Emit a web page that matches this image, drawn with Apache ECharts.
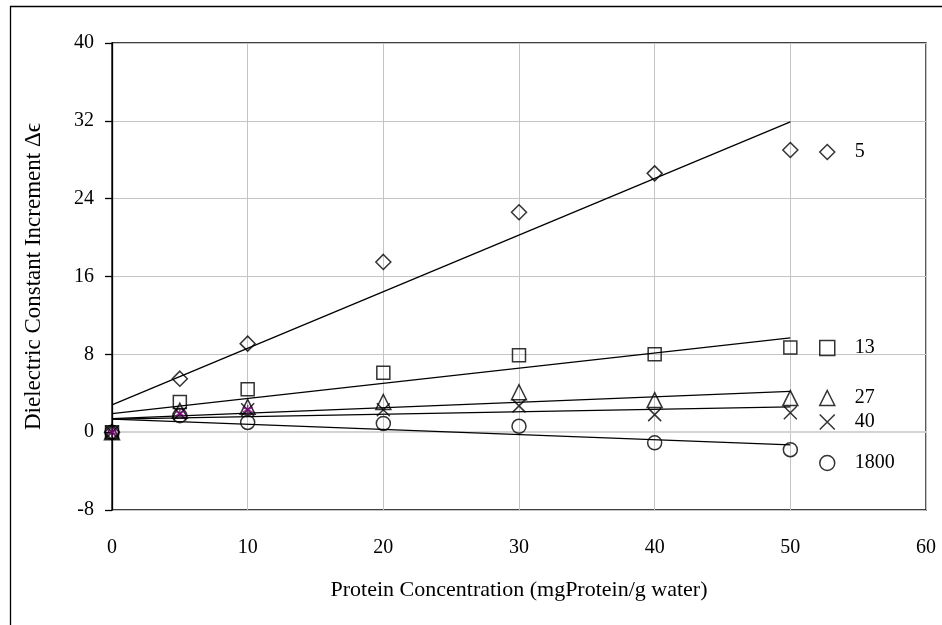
<!DOCTYPE html>
<html>
<head>
<meta charset="utf-8">
<script src="https://cdn.jsdelivr.net/npm/echarts@6/dist/echarts.min.js"></script>
<style>
  html, body { margin: 0; padding: 0; background: #fff; }
  #chart { width: 942px; height: 625px; }
</style>
</head>
<body>
<div id="chart"></div>
<script>
// protein concentration (mg protein / g water)
const conc = [0, 5, 10, 20, 30, 40, 50];
// dielectric increment per frequency series
const d5 = [0, 5.5, 9.1, 17.5, 22.6, 26.6, 29.0];
const d13 = [0, 3.1, 4.4, 6.1, 7.9, 8.0, 8.7];
const d27 = [0, 2.2, 2.6, 3.1, 4.1, 3.3, 3.5];
const d40 = [0, 1.9, 2.3, 2.3, 2.7, 1.8, 2.0];
const d1800 = [0, 1.7, 1.0, 0.9, 0.6, -1.1, -1.8];
// stray purple star markers near the origin
const starX = [0, 5, 10];
const starY = [0, 1.9, 2.3];
// trendline ends
const fitX = [0, 50];
const fit5 = [2.8, 31.9];
const fit13 = [1.9, 9.7];
const fit27 = [1.4, 4.2];
const fit40 = [1.35, 2.6];
const fit1800 = [1.35, -1.3];

const xTicks = [0, 10, 20, 30, 40, 50, 60];
const yTicks = [-8, 0, 8, 16, 24, 32, 40];

const FONT = "'Liberation Serif', 'Times New Roman', serif";
const pairs = (xs, ys) => xs.map((x, i) => [x, ys[i]]);

const marker = { color: 'rgba(0,0,0,0)', borderColor: '#000', borderWidth: 1.5 };
const DIAMOND = 'path://M0,-1L1,0L0,1L-1,0Z';
const CROSS = 'path://M-1,-1L1,1M-1,1L1,-1';
const STAR = 'path://M0,-1L0,1M-0.87,-0.5L0.87,0.5M-0.87,0.5L0.87,-0.5';

const points = [
  { name: '5', data: d5, symbol: DIAMOND, size: 15, legendY: 142 },
  { name: '13', data: d13, symbol: 'rect', size: 13, legendY: 338 },
  { name: '27', data: d27, symbol: 'triangle', size: 15, legendY: 388 },
  { name: '40', data: d40, symbol: CROSS, size: 13, legendY: 412 },
  { name: '1800', data: d1800, symbol: 'circle', size: 14, legendY: 453 },
];
const fits = [fit5, fit13, fit27, fit40, fit1800];

const chart = echarts.init(document.getElementById('chart'), null, { renderer: 'canvas' });

const series = [];
fits.forEach((f, i) => {
  series.push({
    type: 'line',
    name: 'fit' + i,
    data: pairs(fitX, f),
    symbol: 'none',
    lineStyle: { color: '#000', width: 1.3 },
    silent: true,
    z: 3,
    markLine: i === 0 ? {
      silent: true,
      symbol: 'none',
      label: { show: false },
      lineStyle: { color: '#d4d4d4', width: 2, type: 'solid' },
      data: [{ yAxis: 0 }],
      z: 1,
    } : undefined,
  });
});
points.forEach(p => {
  series.push({
    type: 'scatter',
    name: p.name,
    data: pairs(conc, p.data),
    symbol: p.symbol,
    symbolSize: p.size,
    itemStyle: marker,
    z: 4,
  });
});
series.push({
  type: 'scatter',
  name: 'star',
  data: pairs(starX, starY),
  symbol: STAR,
  symbolSize: 10,
  itemStyle: { color: 'rgba(0,0,0,0)', borderColor: '#800080', borderWidth: 1.5 },
  z: 5,
});

chart.setOption({
  animation: false,
  backgroundColor: '#fff',
  textStyle: { fontFamily: FONT },
  graphic: [{
    type: 'rect',
    shape: { x: 10.5, y: 6.5, width: 1000, height: 700 },
    style: { fill: 'none', stroke: '#000', lineWidth: 1.3 },
    z: -1,
  }],
  grid: {
    left: 112, right: 16, top: 43, bottom: 115,
    show: true, borderColor: '#000', borderWidth: 1.3, backgroundColor: '#fff',
  },
  legend: points.map(p => ({
    data: [p.name],
    left: 819,
    top: p.legendY,
    padding: 0,
    itemWidth: 15,
    itemHeight: 15,
    selectedMode: false,
    itemStyle: { color: 'rgba(0,0,0,0)', borderColor: '#000', borderWidth: 1.5 },
    textStyle: { fontFamily: FONT, fontSize: 20, color: '#000', padding: [0, 0, 0, 15] },
  })),
  xAxis: {
    type: 'value',
    min: xTicks[0],
    max: xTicks[xTicks.length - 1],
    interval: 10,
    name: 'Protein Concentration (mgProtein/g water)',
    nameLocation: 'middle',
    nameGap: 69,
    nameTextStyle: { fontFamily: FONT, fontSize: 22, color: '#000' },
    axisLine: { show: false, onZero: false },
    axisTick: { show: false },
    axisLabel: { fontFamily: FONT, fontSize: 20, color: '#000', margin: 28 },
    splitLine: { show: true, lineStyle: { color: '#c4c4c4', width: 1 } },
  },
  yAxis: {
    type: 'value',
    min: yTicks[0],
    max: yTicks[yTicks.length - 1],
    interval: 8,
    name: 'Dielectric Constant Increment \u0394\u03F5',
    nameLocation: 'middle',
    nameGap: 67,
    nameTextStyle: { fontFamily: FONT, fontSize: 23, color: '#000' },
    axisLine: { show: true, lineStyle: { color: '#000', width: 1.3 } },
    axisTick: { show: true, length: 7, lineStyle: { color: '#000', width: 1.3 } },
    axisLabel: { fontFamily: FONT, fontSize: 20, color: '#000', margin: 18 },
    splitLine: { show: true, lineStyle: { color: '#c4c4c4', width: 1 } },
  },
  series: series,
});
</script>
</body>
</html>
